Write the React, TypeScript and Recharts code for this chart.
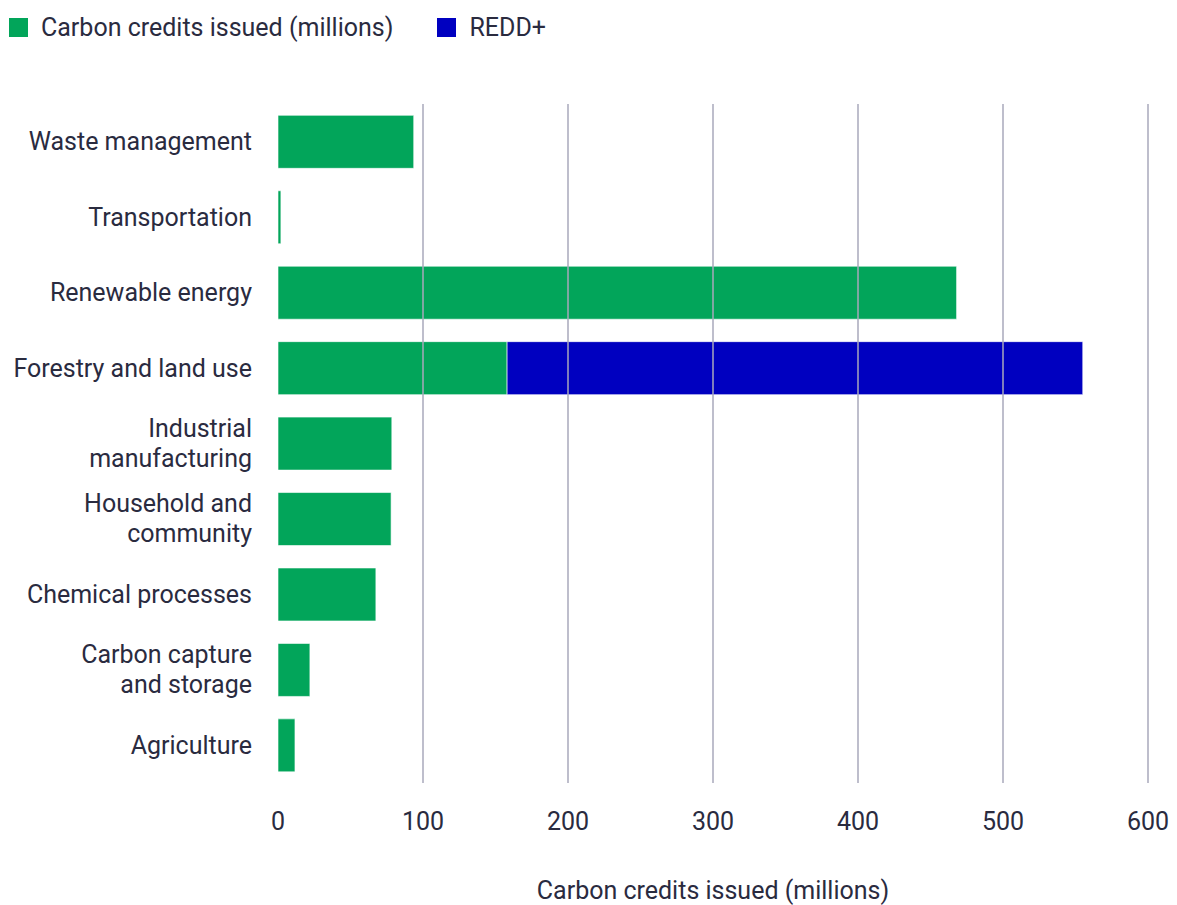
import React from "react";
import { BarChart, Bar, XAxis, YAxis, ReferenceLine } from "recharts";

const categories = [
  "Waste management",
  "Transportation",
  "Renewable energy",
  "Forestry and land use",
  "Industrial manufacturing",
  "Household and community",
  "Chemical processes",
  "Carbon capture and storage",
  "Agriculture",
];
const tickLabels = [
  ["Waste management"],
  ["Transportation"],
  ["Renewable energy"],
  ["Forestry and land use"],
  ["Industrial", "manufacturing"],
  ["Household and", "community"],
  ["Chemical processes"],
  ["Carbon capture", "and storage"],
  ["Agriculture"],
];
const creditsIssued = [93.6, 2, 468, 158, 78.5, 78, 67.5, 22, 11.7];
const redd = [0, 0, 0, 397, 0, 0, 0, 0, 0];
const xTicks = [0, 100, 200, 300, 400, 500, 600];
const seriesNames = ["Carbon credits issued (millions)", "REDD+"];
const axisTitle = "Carbon credits issued (millions)";

const data = categories.map((c, i) => ({
  name: c,
  credits: creditsIssued[i],
  redd: redd[i],
}));

const GREEN = "#02A55A";
const BLUE = "#0000C0";
const TEXT = "#2a2b3f";
const FONT = "Roboto, 'Open Sans', sans-serif";
const FS = 25;

const YTick = (props: any) => {
  const { x, y, index } = props;
  const lines = tickLabels[index] || [props.payload.value];
  const spacing = 30;
  const start = -((lines.length - 1) * spacing) / 2;
  return (
    <g>
      {lines.map((l: string, i: number) => (
        <text
          key={i}
          x={x}
          y={y + start + i * spacing}
          textAnchor="end"
          dominantBaseline="central"
          fill={TEXT}
          fontSize={FS}
          fontFamily={FONT}
        >
          {l}
        </text>
      ))}
    </g>
  );
};

const XTick = (props: any) => {
  const { x, y, payload } = props;
  return (
    <text
      x={x}
      y={y + 45}
      textAnchor="middle"
      fill={TEXT}
      fontSize={FS}
      fontFamily={FONT}
    >
      {payload.value}
    </text>
  );
};

export default function App() {
  const colors = [GREEN, BLUE];
  return (
    <div style={{ position: "absolute", left: 0, top: 0, width: 1177, height: 905, background: "#fff" }}>
      <div
        style={{
          position: "absolute",
          left: 9,
          top: 9,
          display: "flex",
          alignItems: "center",
          fontFamily: FONT,
          fontSize: FS,
          color: TEXT,
          height: 36,
        }}
      >
        {seriesNames.map((n, i) => (
          <div key={n} style={{ display: "flex", alignItems: "center", marginRight: 44 }}>
            <span style={{ width: 19, height: 19, background: colors[i], display: "inline-block", marginRight: 13 }} />
            <span>{n}</span>
          </div>
        ))}
      </div>
      <BarChart
        width={1177}
        height={905}
        data={data}
        layout="vertical"
        margin={{ top: 104, right: 29, bottom: 0, left: 0 }}
        barCategoryGap="15%"
      >
        {xTicks
          .filter((t) => t !== 0)
          .map((t) => (
            <ReferenceLine key={t} x={t} stroke="#a9a8bb" strokeWidth={1.5} ifOverflow="extendDomain" />
          ))}
        <XAxis
          type="number"
          domain={[0, 600]}
          ticks={xTicks}
          axisLine={false}
          tickLine={false}
          tickSize={0}
          height={122}
          tick={<XTick />}
          interval={0}
          label={{
            value: axisTitle,
            position: "insideBottom",
            offset: 6,
            fill: TEXT,
            fontSize: FS,
            fontFamily: FONT,
          }}
        />
        <YAxis
          type="category"
          dataKey="name"
          width={278}
          axisLine={false}
          tickLine={false}
          tickSize={0}
          tickMargin={26}
          tick={<YTick />}
          interval={0}
        />
        <Bar dataKey="credits" stackId="a" fill={GREEN} stroke="#ffffff" strokeOpacity={0.6} strokeWidth={1} isAnimationActive={false} />
        <Bar dataKey="redd" stackId="a" fill={BLUE} stroke="#ffffff" strokeOpacity={0.6} strokeWidth={1} isAnimationActive={false} />
      </BarChart>
    </div>
  );
}
